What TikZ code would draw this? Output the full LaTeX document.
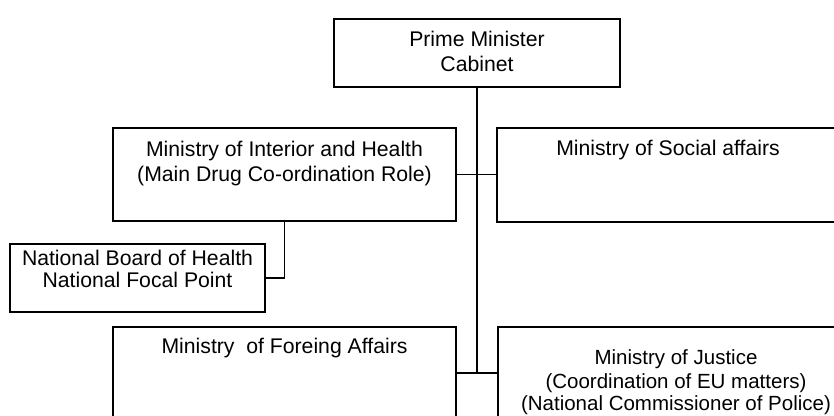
\documentclass[tikz,border=0pt]{standalone}
\usepackage{fontspec}
\setmainfont{Liberation Sans}
\begin{document}
\begin{tikzpicture}[x=1pt,y=-1pt,
  orgbox/.style={draw=black,line width=1.9pt,rectangle,inner sep=0pt,outer sep=0pt},
  ln/.style={anchor=base,inner sep=0pt,font=\fontsize{21.2}{25}\selectfont},
  lnsmall/.style={ln,font=\fontsize{20.5}{24}\selectfont},
  link/.style={draw=black,line width=1.9pt}]
\useasboundingbox (0,0) rectangle (834,415);
\clip (0,0) rectangle (834,415);

% boxes
\node[orgbox,minimum width=286pt,minimum height=68pt] (pm) at (477,53) {};
\node[orgbox,minimum width=343pt,minimum height=93pt] (int) at (284.5,174.5) {};
\node[orgbox,minimum width=342pt,minimum height=94pt] (soc) at (668,175) {};
\node[orgbox,minimum width=255pt,minimum height=68pt] (board) at (137.5,278) {};
\node[orgbox,minimum width=343pt,minimum height=113pt] (for) at (284.5,383.5) {};
\node[orgbox,minimum width=359pt,minimum height=113pt] (jus) at (677.5,383.5) {};

% texts
\node[ln] (pm1) at (477,46) {Prime Minister};
\node[ln] (pm2) at (477,71) {Cabinet};
\node[ln] (int1) at (284.5,156) {Ministry of Interior and Health};
\node[ln] (int2) at (284.5,181) {(Main Drug Co-ordination Role)};
\node[ln] (soc1) at (668,155) {Ministry of Social affairs};
\node[ln] (board1) at (137.5,265) {National Board of Health};
\node[ln] (board2) at (137.5,287) {National Focal Point};
\node[ln] (for1) at (284.5,353) {Ministry~~of Foreing Affairs};
\node[lnsmall] (jus1) at (676,364) {Ministry of Justice};
\node[lnsmall] (jus2) at (676,388) {(Coordination of EU matters)};
\node[lnsmall] (jus3) at (676,410) {(National Commissioner of Police)};

% connectors
\coordinate (jn) at (477,373);
\draw[link] (pm.south) -- (jn);
\draw[link] (int.east) -- (int.east -| soc.west);
\draw[link] (jn -| for.east) -- (jn -| jus.west);
\draw[link] (int.south) -- (int.south |- board.east) -- (board.east);
\end{tikzpicture}
\end{document}
